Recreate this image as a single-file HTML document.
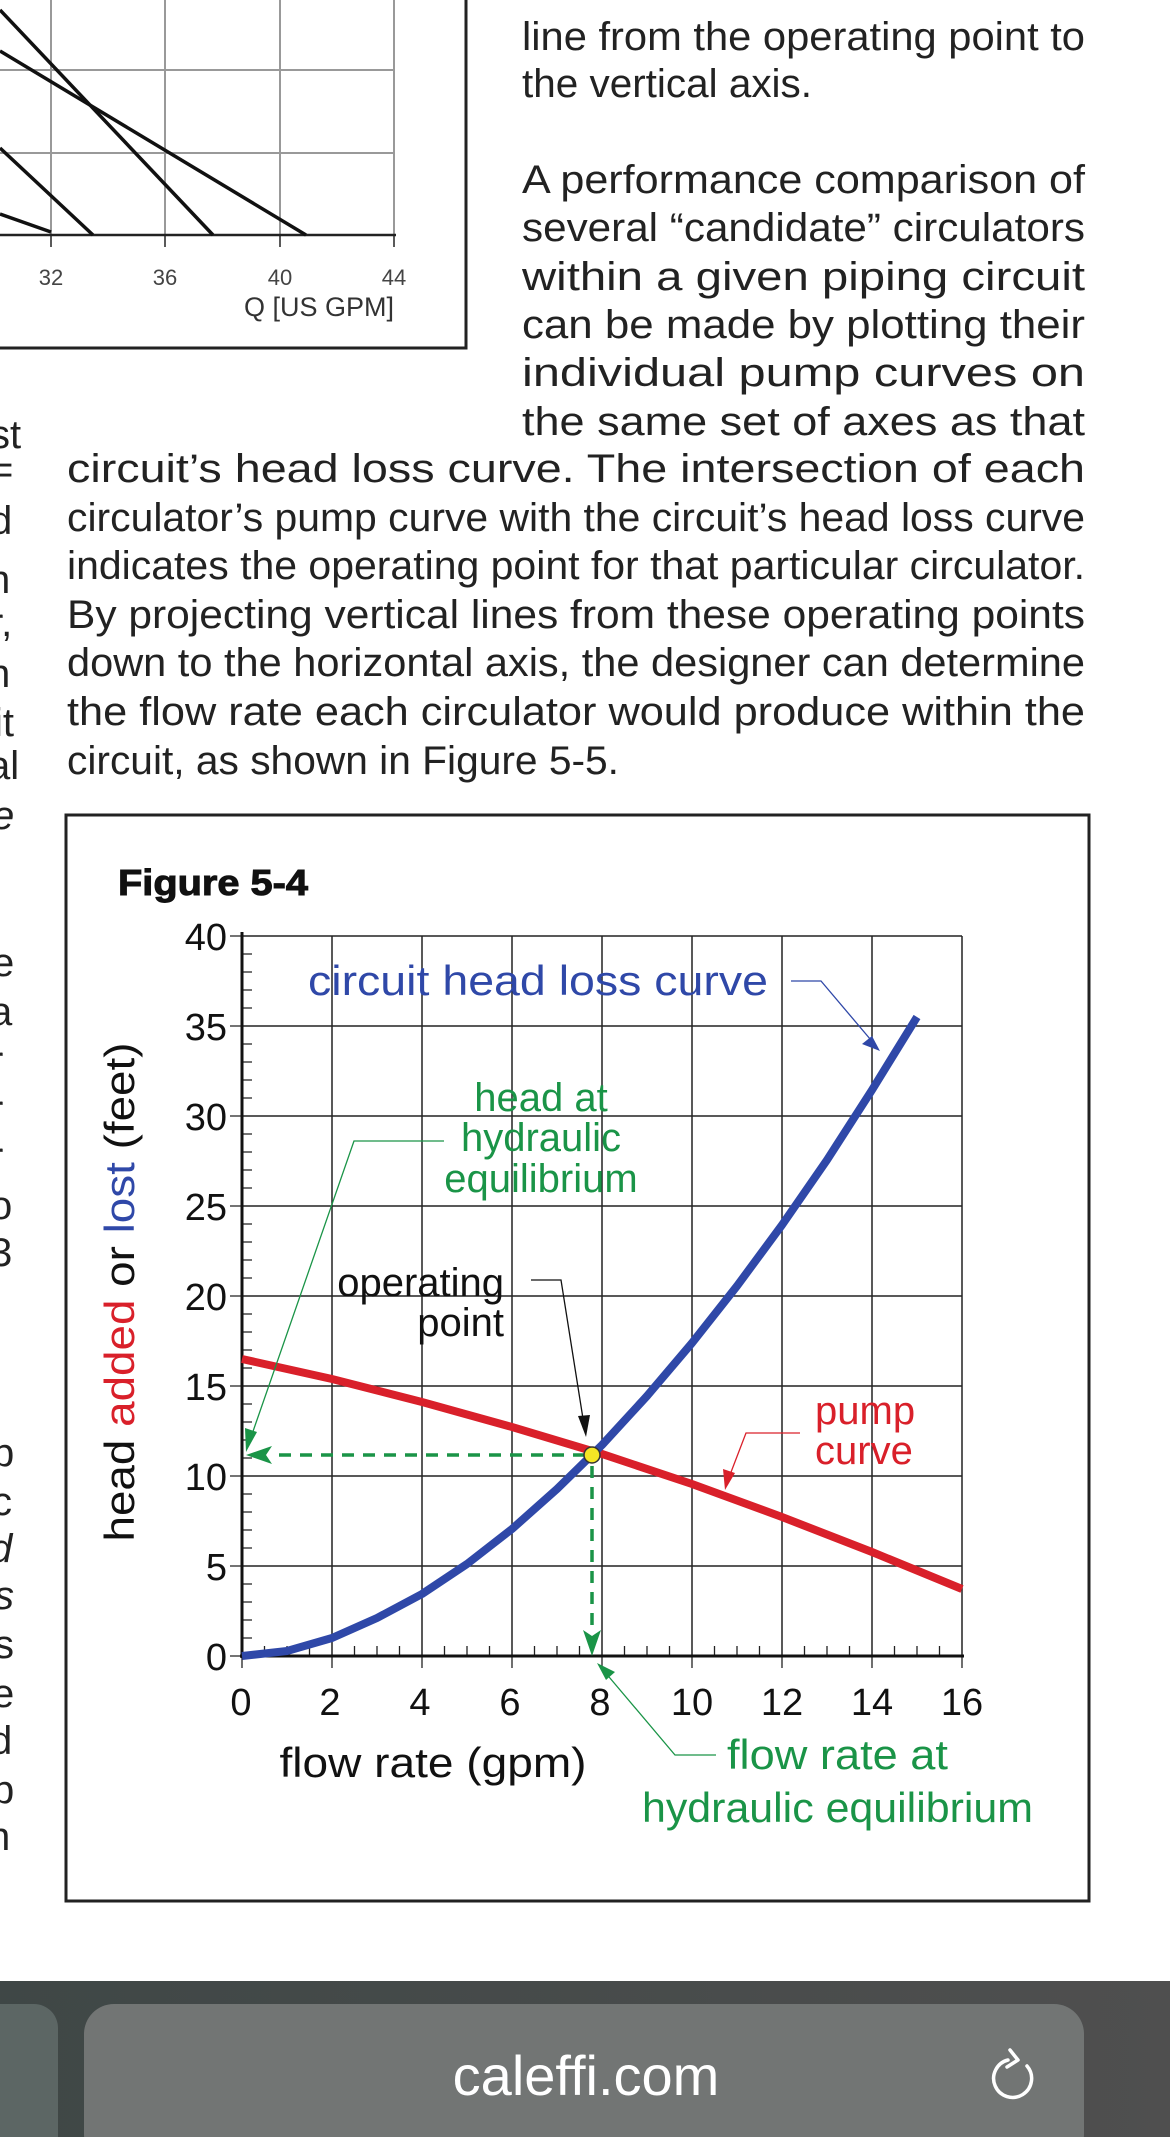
<!DOCTYPE html>
<html><head><meta charset="utf-8"><style>
html,body{margin:0;padding:0;background:#fff;}
svg{display:block;}
text{font-family:"Liberation Sans",sans-serif;}
</style></head><body>
<svg width="1170" height="2137" viewBox="0 0 1170 2137" xmlns="http://www.w3.org/2000/svg">
<rect width="1170" height="2137" fill="#fff"/>
<!-- top-left partial chart -->
<g stroke="#999" stroke-width="2">
<line x1="0" y1="70" x2="394" y2="70"/><line x1="0" y1="153" x2="394" y2="153"/>
<line x1="51" y1="0" x2="51" y2="235"/><line x1="165" y1="0" x2="165" y2="235"/><line x1="280" y1="0" x2="280" y2="235"/><line x1="394" y1="0" x2="394" y2="235"/>
</g>
<line x1="0" y1="235" x2="396" y2="235" stroke="#222" stroke-width="2.5"/>
<g stroke="#222" stroke-width="1.5">
<line x1="51" y1="235" x2="51" y2="247"/><line x1="165" y1="235" x2="165" y2="247"/><line x1="280" y1="235" x2="280" y2="247"/><line x1="394" y1="235" x2="394" y2="247"/>
</g>
<g stroke="#111" stroke-width="3.5" fill="none">
<line x1="0" y1="10" x2="213" y2="235"/><line x1="0" y1="51" x2="306" y2="235"/>
<line x1="0" y1="148" x2="93" y2="235"/><line x1="0" y1="214" x2="51" y2="232"/>
</g>
<g font-size="22" fill="#444" text-anchor="middle">
<text x="51" y="285">32</text><text x="165" y="285">36</text><text x="280" y="285">40</text><text x="394" y="285">44</text>
</g>
<text x="394" y="316" font-size="27" fill="#333" text-anchor="end">Q [US GPM]</text>
<polyline points="466,0 466,348 0,348" fill="none" stroke="#222" stroke-width="3"/>

<!-- body text -->
<g font-size="40" fill="#222">
<text x="522" y="50" textLength="563" lengthAdjust="spacingAndGlyphs">line from the operating point to</text>
<text x="522" y="97" textLength="290" lengthAdjust="spacingAndGlyphs">the vertical axis.</text>
<text x="522" y="193" textLength="563" lengthAdjust="spacingAndGlyphs">A performance comparison of</text>
<text x="522" y="241" textLength="563" lengthAdjust="spacingAndGlyphs">several “candidate” circulators</text>
<text x="522" y="290" textLength="563" lengthAdjust="spacingAndGlyphs">within a given piping circuit</text>
<text x="522" y="338" textLength="563" lengthAdjust="spacingAndGlyphs">can be made by plotting their</text>
<text x="522" y="386" textLength="563" lengthAdjust="spacingAndGlyphs">individual pump curves on</text>
<text x="522" y="435" textLength="563" lengthAdjust="spacingAndGlyphs">the same set of axes as that</text>
<text x="67" y="482" textLength="1018" lengthAdjust="spacingAndGlyphs">circuit’s head loss curve. The intersection of each</text>
<text x="67" y="531" textLength="1018" lengthAdjust="spacingAndGlyphs">circulator’s pump curve with the circuit’s head loss curve</text>
<text x="67" y="579" textLength="1018" lengthAdjust="spacingAndGlyphs">indicates the operating point for that particular circulator.</text>
<text x="67" y="628" textLength="1018" lengthAdjust="spacingAndGlyphs">By projecting vertical lines from these operating points</text>
<text x="67" y="676" textLength="1018" lengthAdjust="spacingAndGlyphs">down to the horizontal axis, the designer can determine</text>
<text x="67" y="725" textLength="1018" lengthAdjust="spacingAndGlyphs">the flow rate each circulator would produce within the</text>
<text x="67" y="774" textLength="552" lengthAdjust="spacingAndGlyphs">circuit, as shown in Figure 5-5.</text>
</g>
<!-- left fragments -->
<g font-size="40" fill="#222">
<text x="-10" y="448">st</text><text x="-10" y="483">=</text><text x="-10" y="534">d</text><text x="-12" y="593">n</text>
<text x="-10" y="636">r,</text><text x="-12" y="687">n</text><text x="-6" y="736">it</text><text x="-12" y="779">al</text>
<text x="-8" y="829" font-style="italic">e</text>
<text x="-8" y="976">e</text><text x="-10" y="1025">a</text><text x="-10" y="1074">r</text><text x="-10" y="1123">r</text><text x="-10" y="1170">r</text>
<text x="-10" y="1219">o</text><text x="-10" y="1266">3</text>
<text x="-8" y="1466">p</text><text x="-8" y="1515">c</text><text x="-10" y="1562" font-style="italic">d</text><text x="-6" y="1609" font-style="italic">s</text>
<text x="-6" y="1658">s</text><text x="-8" y="1707">e</text><text x="-10" y="1754">d</text><text x="-8" y="1803">p</text><text x="-12" y="1850">n</text>
</g>

<!-- Figure box -->
<rect x="66" y="815" width="1023" height="1086" fill="#fff" stroke="#222" stroke-width="3"/>
<text x="118" y="895" font-size="36" font-weight="bold" fill="#111" stroke="#111" stroke-width="1" textLength="190" lengthAdjust="spacingAndGlyphs">Figure 5-4</text>

<!-- grid -->
<g stroke="#222" stroke-width="1.5">
<line x1="242" y1="936" x2="962" y2="936"/><line x1="242" y1="1026" x2="962" y2="1026"/><line x1="242" y1="1116" x2="962" y2="1116"/>
<line x1="242" y1="1206" x2="962" y2="1206"/><line x1="242" y1="1296" x2="962" y2="1296"/><line x1="242" y1="1386" x2="962" y2="1386"/>
<line x1="242" y1="1476" x2="962" y2="1476"/><line x1="242" y1="1566" x2="962" y2="1566"/>
<line x1="332" y1="936" x2="332" y2="1656"/><line x1="422" y1="936" x2="422" y2="1656"/><line x1="512" y1="936" x2="512" y2="1656"/>
<line x1="602" y1="936" x2="602" y2="1656"/><line x1="692" y1="936" x2="692" y2="1656"/><line x1="782" y1="936" x2="782" y2="1656"/>
<line x1="872" y1="936" x2="872" y2="1656"/><line x1="962" y1="936" x2="962" y2="1656"/>
</g>
<g stroke="#222" stroke-width="1.3">
<path d="M242 954h10M242 972h10M242 990h10M242 1008h10M242 1044h10M242 1062h10M242 1080h10M242 1098h10M242 1134h10M242 1152h10M242 1170h10M242 1188h10M242 1224h10M242 1242h10M242 1260h10M242 1278h10M242 1314h10M242 1332h10M242 1350h10M242 1368h10M242 1404h10M242 1422h10M242 1440h10M242 1458h10M242 1494h10M242 1512h10M242 1530h10M242 1548h10M242 1584h10M242 1602h10M242 1620h10M242 1638h10"/>
<path d="M264.5 1656v-10M287 1656v-10M309.5 1656v-10M354.5 1656v-10M377 1656v-10M399.5 1656v-10M444.5 1656v-10M467 1656v-10M489.5 1656v-10M534.5 1656v-10M557 1656v-10M579.5 1656v-10M624.5 1656v-10M647 1656v-10M669.5 1656v-10M714.5 1656v-10M737 1656v-10M759.5 1656v-10M804.5 1656v-10M827 1656v-10M849.5 1656v-10M894.5 1656v-10M917 1656v-10M939.5 1656v-10"/>
<path d="M230 936h12M230 1026h12M230 1116h12M230 1206h12M230 1296h12M230 1386h12M230 1476h12M230 1566h12M230 1656h12"/>
<path d="M242 1656v12M332 1656v12M422 1656v12M512 1656v12M602 1656v12M692 1656v12M782 1656v12M872 1656v12M962 1656v12"/>
</g>
<line x1="242" y1="932" x2="242" y2="1658" stroke="#111" stroke-width="3"/>
<line x1="240" y1="1656" x2="964" y2="1656" stroke="#111" stroke-width="3"/>

<!-- tick labels -->
<g font-size="38" fill="#111" text-anchor="end">
<text x="227" y="950">40</text><text x="227" y="1040">35</text><text x="227" y="1130">30</text><text x="227" y="1220">25</text>
<text x="227" y="1310">20</text><text x="227" y="1400">15</text><text x="227" y="1490">10</text><text x="227" y="1580">5</text><text x="227" y="1670">0</text>
</g>
<g font-size="38" fill="#111" text-anchor="middle">
<text x="241" y="1715">0</text><text x="330" y="1715">2</text><text x="420" y="1715">4</text><text x="510" y="1715">6</text>
<text x="600" y="1715">8</text><text x="692" y="1715">10</text><text x="782" y="1715">12</text><text x="872" y="1715">14</text><text x="962" y="1715">16</text>
</g>
<text x="433" y="1777" font-size="42" fill="#111" text-anchor="middle" textLength="307" lengthAdjust="spacingAndGlyphs">flow rate (gpm)</text>
<text transform="translate(134,1292) rotate(-90)" font-size="42" text-anchor="middle" fill="#111" textLength="499" lengthAdjust="spacingAndGlyphs">head <tspan fill="#d9202a">added</tspan> or <tspan fill="#2f48a8">lost</tspan> (feet)</text>

<!-- curves -->
<polyline fill="none" stroke="#d9202a" stroke-width="8" points="242,1359 332,1379 422,1402 512,1427 602,1454 692,1484 782,1517 872,1552 962,1589"/>
<polyline fill="none" stroke="#2f48a8" stroke-width="8" stroke-linejoin="round" points="242,1656 287,1651 332,1638 377,1618 422,1594 467,1564 512,1529 557,1489 602,1445 647,1396 692,1343 737,1286 782,1225 827,1160 872,1090 917,1017"/>

<!-- dashed projections -->
<g stroke="#1a9447" stroke-width="3.5" stroke-dasharray="12,9" fill="none">
<line x1="585" y1="1455" x2="270" y2="1455"/>
<line x1="592" y1="1466" x2="592" y2="1630"/>
</g>
<polygon points="246,1455 272,1446 266,1455 272,1464" fill="#1a9447"/>
<polygon points="592,1656 583,1630 592,1636 601,1630" fill="#1a9447"/>
<circle cx="592" cy="1455" r="8" fill="#f5e625" stroke="#333" stroke-width="1.5"/>

<!-- labels -->
<text x="308" y="995" font-size="42" fill="#2f48a8" textLength="460" lengthAdjust="spacingAndGlyphs">circuit head loss curve</text>
<polyline points="791,981 821,981 876,1046" fill="none" stroke="#2f48a8" stroke-width="1.3"/>
<polygon points="880,1051 862,1044 872,1036" fill="#2f48a8"/>

<g font-size="40" fill="#1a9447" text-anchor="middle">
<text x="541" y="1111">head at</text><text x="541" y="1151">hydraulic</text><text x="541" y="1192">equilibrium</text>
</g>
<polyline points="444,1141 354,1141 250,1440" fill="none" stroke="#1a9447" stroke-width="1.3"/>
<polygon points="246,1452 245,1428 257,1432" fill="#1a9447"/>

<g font-size="40" fill="#111" text-anchor="end">
<text x="504" y="1296">operating</text><text x="504" y="1336">point</text>
</g>
<polyline points="531,1280 561,1280 584,1425" fill="none" stroke="#111" stroke-width="1.3"/>
<polygon points="586,1437 578,1416 590,1415" fill="#111"/>

<g font-size="40" fill="#d9202a">
<text x="815" y="1424">pump</text><text x="815" y="1464">curve</text>
</g>
<polyline points="800,1433 746,1433 728,1480" fill="none" stroke="#d9202a" stroke-width="1.3"/>
<polygon points="725,1490 723,1469 735,1473" fill="#d9202a"/>

<text x="727" y="1769" font-size="42" fill="#1a9447" textLength="221" lengthAdjust="spacingAndGlyphs">flow rate at</text>
<text x="642" y="1822" font-size="42" fill="#1a9447" textLength="391" lengthAdjust="spacingAndGlyphs">hydraulic equilibrium</text>
<polyline points="716,1755 675,1755 604,1671" fill="none" stroke="#1a9447" stroke-width="1.3"/>
<polygon points="597,1663 615,1672 606,1680" fill="#1a9447"/>

<!-- browser bar -->
<defs><linearGradient id="bg" x1="0" y1="0" x2="1" y2="0"><stop offset="0" stop-color="#3f4746"/><stop offset="1" stop-color="#4f4f4f"/></linearGradient></defs>
<rect x="0" y="1981" width="1170" height="156" fill="url(#bg)"/>
<rect x="-30" y="2004" width="88" height="160" rx="24" fill="#5c6664"/>
<rect x="84" y="2004" width="1000" height="160" rx="30" fill="#727574"/>
<text x="586" y="2095" font-size="56" fill="#fff" text-anchor="middle">caleffi.com</text>
<path d="M1027 2066 A19 19 0 1 1 1008 2060" fill="none" stroke="#fff" stroke-width="3.5" stroke-linecap="round"/>
<polyline points="1010,2050 1018,2060 1007,2067" fill="none" stroke="#fff" stroke-width="3.5" stroke-linecap="round" stroke-linejoin="round"/>
</svg>
</body></html>
